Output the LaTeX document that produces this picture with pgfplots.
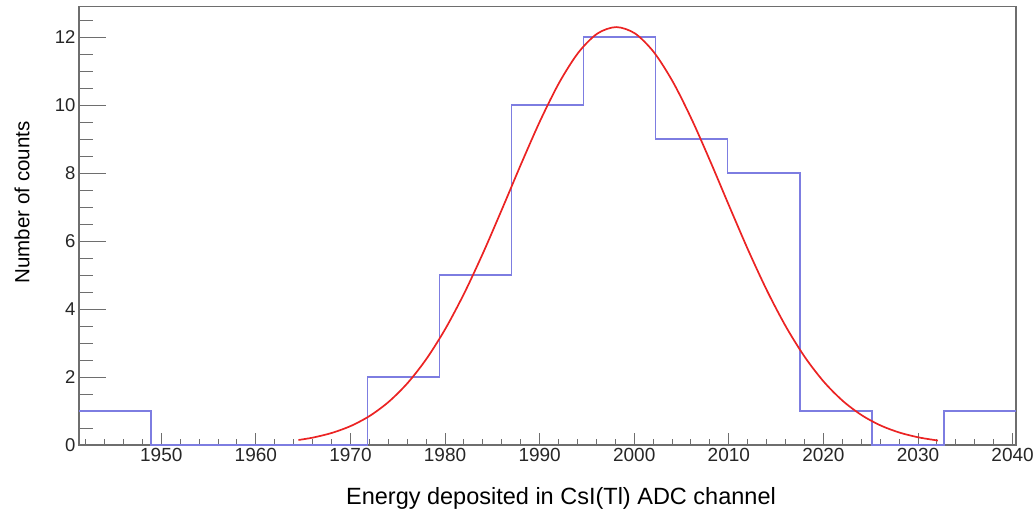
\documentclass[border=0pt]{standalone}
\usepackage{fontspec}
\setmainfont{Liberation Sans}
\usepackage{pgfplots}
\pgfplotsset{compat=1.18}
\definecolor{histc}{RGB}{125,125,225}
\definecolor{fitc}{RGB}{235,35,35}
\definecolor{framec}{RGB}{110,110,110}
\begin{document}
\begin{tikzpicture}
\begin{axis}[
  at={(0,0)}, anchor=south west,
  scale only axis, width=937pt, height=438.3pt,
  xmin=1941.3, xmax=2040.36, ymin=0, ymax=12.9,
  axis line style={framec, line width=1.2pt},
  tick style={framec, line width=1pt},
  xtick={1950,1960,...,2040},
  minor xtick={1942,1944,...,2040},
  ytick={0,2,...,12},
  minor ytick={0,0.5,...,12.5},
  xtick pos=left, ytick pos=left,
  tick align=inside,
  xtick style={/pgfplots/major tick length=12.3pt,/pgfplots/minor tick length=5.7pt},
  ytick style={/pgfplots/major tick length=27pt,/pgfplots/minor tick length=13.7pt},
  /pgf/number format/assume math mode=true,
  /pgf/number format/1000 sep={},
  xticklabel style={font=\fontsize{19}{22}\selectfont, color=black!85},
  yticklabel style={font=\fontsize{18.5}{22}\selectfont, color=black!85},
  xlabel={Energy deposited in CsI(Tl) ADC channel},
  ylabel={Number of counts},
  xlabel style={font=\fontsize{23.5}{27}\selectfont, at={(axis description cs:0.5144,-0.1353)}, anchor=base},
  ylabel style={font=\fontsize{20.5}{24}\selectfont, at={(axis description cs:-0.053,0.5535)}, anchor=base},
]
\addplot[draw=histc, line width=1.6pt, const plot mark left, mark=none] coordinates {
  (1941.30,1) (1948.92,0) (1956.54,0) (1964.16,0) (1971.78,2) (1979.40,5)
  (1987.02,10) (1994.64,12) (2002.26,9) (2009.88,8) (2017.50,1) (2025.12,0)
  (2032.74,1) (2040.36,1)
};
\addplot[smooth, fitc, line width=1.7pt] coordinates {
  (1964.5,0.147) (1966.1,0.222) (1968.1,0.361) (1970.1,0.568) (1972.1,0.868)
  (1974.1,1.285) (1976.1,1.843) (1978.1,2.562) (1980.1,3.452) (1982.1,4.507)
  (1984.1,5.703) (1986.1,6.993) (1988.1,8.310) (1990.1,9.570) (1992.1,10.681)
  (1994.1,11.552) (1996.1,12.109) (1998.1,12.300) (2000.1,12.109) (2002.1,11.552)
  (2004.1,10.681) (2006.1,9.570) (2008.1,8.310) (2010.1,6.993) (2012.1,5.703)
  (2014.1,4.507) (2016.1,3.452) (2018.1,2.562) (2020.1,1.843) (2022.1,1.285)
  (2024.1,0.868) (2026.1,0.568) (2028.1,0.361) (2030.1,0.222) (2032.1,0.132)
};
\end{axis}
\pgfresetboundingbox
\useasboundingbox (-79pt,-64pt) rectangle (957pt,445pt);
\end{tikzpicture}
\end{document}
